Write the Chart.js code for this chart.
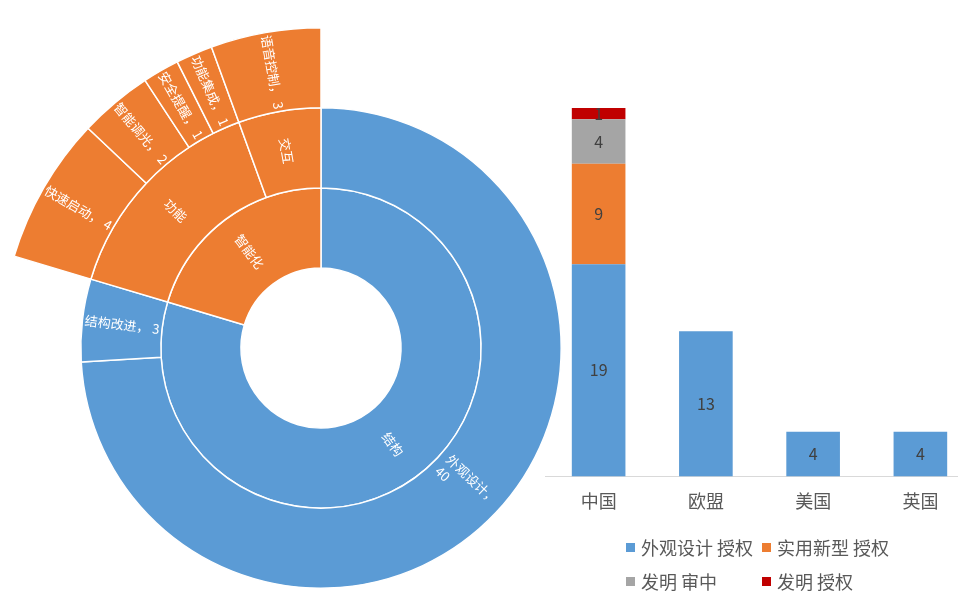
<!DOCTYPE html>
<html>
<head>
<meta charset="utf-8">
<script src="https://cdn.jsdelivr.net/npm/chart.js@4.4.0/dist/chart.umd.min.js"></script>
<style>
  html, body { margin:0; padding:0; width:958px; height:611px; overflow:hidden; background:#fff; }
  #sunWrap { position:absolute; left:0; top:27px; width:642px; height:642px; }
  #barWrap { position:absolute; left:545px; top:80px; width:429px; height:445px; }
  .lg { position:absolute; font:18px "Noto Sans CJK SC", sans-serif; color:#595959; white-space:nowrap; line-height:20px; }
  .lg i { position:absolute; left:0; top:5px; width:9px; height:9px; }
  .lg span { position:absolute; left:15px; top:-1px; }
</style>
</head>
<body>
<div id="sunWrap"><canvas id="sun"></canvas></div>
<div id="barWrap"><canvas id="bar"></canvas></div>
<div id="legend"></div>
<script>
// ---- Sunburst data ----
const leafNames  = ['外观设计','结构改进','快速启动','智能调光','安全提醒','功能集成','语音控制'];
const leafValues = [40, 3, 4, 2, 1, 1, 3];
const leafGroup  = ['', '', '功能', '功能', '功能', '功能', '交互'];
const leafRoot   = ['结构','结构','智能化','智能化','智能化','智能化','智能化'];
const rootNames  = ['结构','智能化'];
const rootColors = ['#5B9BD5','#ED7D31'];

// ---- Bar data ----
const countries        = ['中国','欧盟','美国','英国'];
const seriesNames      = ['外观设计 授权','实用新型 授权','发明 审中','发明 授权'];
const seriesColors     = ['#5B9BD5','#ED7D31','#A5A5A5','#C00000'];
const designGranted    = [19, 13, 4, 4];
const utilityGranted   = [9, 0, 0, 0];
const inventionPending = [4, 0, 0, 0];
const inventionGranted = [1, 0, 0, 0];
const seriesData = [designGranted, utilityGranted, inventionPending, inventionGranted];

const FONT = '"Noto Sans CJK SC", sans-serif';

// build rings from the hierarchy
function leafPath(i) {
  const p = [leafRoot[i]];
  if (leafGroup[i]) p.push(leafGroup[i]);
  p.push(leafNames[i]);
  return p;
}
const depth = 3;
const rings = [];
for (let d = 0; d < depth; d++) {
  const ring = { values: [], labels: [], colors: [], widths: [] };
  let lastKey = null;
  leafNames.forEach((n, i) => {
    const p = leafPath(i);
    const color = rootColors[rootNames.indexOf(leafRoot[i])];
    if (d < p.length) {
      const key = p.slice(0, d + 1).join('/');
      const isLeaf = d === p.length - 1;
      if (key === lastKey && !isLeaf) {
        ring.values[ring.values.length - 1] += leafValues[i];
      } else {
        ring.values.push(leafValues[i]);
        ring.labels.push(isLeaf ? p[d] + '， ' + leafValues[i] : p[d]);
        ring.colors.push(color);
        ring.widths.push(1.5);
      }
      lastKey = key;
    } else {
      if (lastKey === '#empty') {
        ring.values[ring.values.length - 1] += leafValues[i];
      } else {
        ring.values.push(leafValues[i]);
        ring.labels.push('');
        ring.colors.push('rgba(0,0,0,0)');
        ring.widths.push(0);
      }
      lastKey = '#empty';
    }
  });
  rings.push(ring);
}

const sunLabels = {
  id: 'sunLabels',
  afterDatasetsDraw(chart) {
    const ctx = chart.ctx;
    chart.data.datasets.forEach((ds, di) => {
      const meta = chart.getDatasetMeta(di);
      meta.data.forEach((arc, j) => {
        const text = ds.ringLabels[j];
        if (!text) return;
        const p = arc.getProps(['x','y','startAngle','endAngle','innerRadius','outerRadius'], true);
        const mid = (p.startAngle + p.endAngle) / 2;
        const r = (p.innerRadius + p.outerRadius) / 2;
        const thick = p.outerRadius - p.innerRadius;
        ctx.save();
        ctx.font = '13px ' + FONT;
        let lines = [text];
        if (ctx.measureText(text).width > thick - 1) lines = text.split(' ');
        const bw = Math.max(...lines.map(l => ctx.measureText(l).width));
        const lh = 16;
        ctx.translate(p.x + r * Math.cos(mid), p.y + r * Math.sin(mid));
        ctx.rotate(Math.cos(mid) >= 0 ? mid : mid + Math.PI);
        ctx.fillStyle = '#ffffff';
        ctx.textAlign = 'left';
        ctx.textBaseline = 'middle';
        lines.forEach((l, k) => ctx.fillText(l, -bw / 2, (k - (lines.length - 1) / 2) * lh));
        ctx.restore();
      });
    });
  }
};

new Chart(document.getElementById('sun'), {
  type: 'doughnut',
  data: {
    labels: leafNames,
    datasets: rings.slice().reverse().map(r => ({
      data: r.values,
      ringLabels: r.labels,
      backgroundColor: r.colors,
      borderColor: '#ffffff',
      borderWidth: r.widths,
      hoverBorderWidth: 0
    }))
  },
  options: {
    responsive: true,
    maintainAspectRatio: false,
    animation: false,
    events: [],
    cutout: '25%',
    layout: { padding: 0 },
    plugins: { legend: { display: false }, tooltip: { enabled: false } }
  },
  plugins: [sunLabels]
});

// ---- bar chart ----
const barLabels = {
  id: 'barLabels',
  afterDatasetsDraw(chart) {
    const ctx = chart.ctx;
    ctx.save();
    ctx.font = '16px ' + FONT;
    ctx.fillStyle = '#404040';
    ctx.textAlign = 'center';
    ctx.textBaseline = 'middle';
    chart.data.datasets.forEach((ds, di) => {
      chart.getDatasetMeta(di).data.forEach((bar, j) => {
        const v = ds.data[j];
        if (!v) return;
        const p = bar.getProps(['x','y','base'], true);
        ctx.fillText(String(v), p.x, (p.y + p.base) / 2);
      });
    });
    ctx.restore();
  }
};

const totals = countries.map((c, i) => seriesData.reduce((s, arr) => s + arr[i], 0));

new Chart(document.getElementById('bar'), {
  type: 'bar',
  data: {
    labels: countries,
    datasets: seriesNames.map((n, i) => ({
      label: n,
      data: seriesData[i],
      backgroundColor: seriesColors[i],
      borderWidth: 0,
      categoryPercentage: 1,
      barPercentage: 0.5
    }))
  },
  options: {
    responsive: true,
    maintainAspectRatio: false,
    animation: false,
    events: [],
    layout: { padding: { top: 28, left: 0, right: 0, bottom: 0 } },
    plugins: { legend: { display: false }, tooltip: { enabled: false } },
    scales: {
      x: {
        stacked: true,
        grid: { display: false, drawTicks: false },
        border: { display: true, color: '#D9D9D9', width: 1 },
        ticks: { color: '#595959', font: { size: 18, family: FONT }, padding: 13.5 }
      },
      y: { stacked: true, display: false, min: 0, max: Math.max(...totals) }
    }
  },
  plugins: [barLabels]
});

// ---- legend ----
const lg = document.getElementById('legend');
seriesNames.forEach((n, i) => {
  const d = document.createElement('div');
  d.className = 'lg';
  d.style.left = (626 + (i % 2) * 136) + 'px';
  d.style.top = (538 + Math.floor(i / 2) * 33.7) + 'px';
  const sw = document.createElement('i');
  sw.style.background = seriesColors[i];
  const t = document.createElement('span');
  t.textContent = n;
  d.appendChild(sw); d.appendChild(t);
  lg.appendChild(d);
});
</script>
</body>
</html>
